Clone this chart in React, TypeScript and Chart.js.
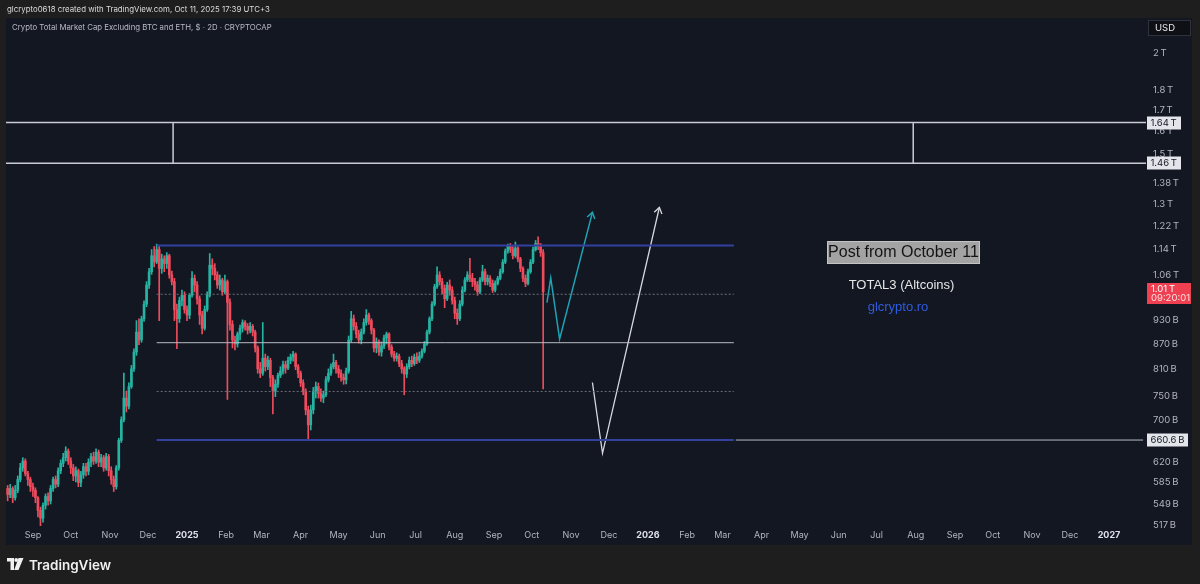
import React, { useEffect, useRef } from "react";
import { Chart, registerables } from "chart.js";

Chart.register(...registerables);

// ---------------- data (values in billions USD) ----------------
const firstCandleDate = "2024-08-12"; // first 2D candle
const candleStepDays = 2;
const firstOpen = 575;

const closes = [
  565, 575, 560, 572, 590, 610, 622, 600, 590, 578,
  572, 560, 540, 528, 548, 562, 555, 575, 590, 582,
  605, 618, 628, 640, 622, 610, 596, 605, 585, 598,
  612, 604, 620, 630, 622, 638, 620, 628, 610, 630,
  605, 590, 578, 610, 660, 700, 745, 728, 770, 810,
  850, 900, 880, 935, 975, 1030, 1070, 1120, 1100, 1140,
  1080, 1110, 1095, 1120, 1060, 1040, 960, 935, 985, 1000,
  960, 945, 1000, 1050, 1030, 990, 945, 910, 960, 1000,
  1090, 1080, 1060, 1030, 1045, 1010, 1040, 980, 920, 880,
  870, 895, 910, 925, 915, 905, 915, 900, 860, 810,
  800, 835, 815, 830, 790, 760, 775, 795, 805, 820,
  812, 830, 838, 845, 815, 800, 778, 760, 720, 690,
  720, 760, 770, 755, 745, 752, 785, 800, 815, 825,
  810, 800, 790, 785, 805, 880, 935, 915, 895, 880,
  900, 925, 945, 930, 905, 860, 875, 850, 865, 885,
  895, 862, 845, 835, 840, 822, 810, 798, 815, 830,
  822, 838, 830, 840, 852, 870, 900, 935, 975, 1025,
  1060, 1040, 1020, 990, 1030, 1015, 985, 950, 935, 975,
  1015, 1045, 1060, 1050, 1040, 1030, 1010, 1045, 1070, 1040,
  1050, 1035, 1015, 1035, 1050, 1070, 1100, 1135, 1150, 1140,
  1120, 1145, 1110, 1080, 1050, 1035, 1070, 1100, 1140, 1160,
  1150, 1130, 1010,
];

const highs = [
  580, 582, 578, 580, 596, 618, 628, 626, 604, 594,
  584, 576, 562, 545, 552, 566, 568, 580, 594, 596,
  610, 624, 636, 648, 644, 628, 616, 612, 608, 604,
  618, 618, 626, 636, 638, 644, 642, 634, 632, 636,
  634, 612, 596, 614, 664, 706, 800, 760, 778, 818,
  858, 930, 935, 942, 984, 1040, 1080, 1140, 1150, 1158,
  1150, 1125, 1120, 1130, 1125, 1072, 1050, 975, 995, 1015,
  1010, 970, 1005, 1070, 1060, 1040, 998, 955, 970, 1010,
  1127, 1110, 1095, 1070, 1060, 1050, 1060, 1045, 990, 930,
  890, 900, 918, 932, 930, 922, 925, 920, 905, 865,
  825, 925, 845, 840, 835, 795, 785, 800, 815, 828,
  828, 838, 845, 852, 848, 820, 805, 785, 765, 728,
  730, 768, 780, 778, 765, 760, 792, 810, 822, 845,
  830, 818, 808, 798, 812, 890, 955, 945, 925, 905,
  908, 935, 960, 950, 935, 910, 885, 880, 875, 892,
  900, 898, 868, 852, 848, 845, 830, 815, 822, 838,
  840, 845, 848, 850, 858, 876, 905, 940, 982, 1032,
  1085, 1070, 1050, 1030, 1038, 1045, 1025, 995, 962, 985,
  1025, 1052, 1070, 1112, 1065, 1050, 1040, 1052, 1090, 1078,
  1060, 1058, 1045, 1042, 1056, 1078, 1108, 1142, 1158, 1160,
  1150, 1165, 1150, 1115, 1085, 1060, 1078, 1108, 1148, 1170,
  1182, 1160, 1140,
];

const lows = [
  555, 560, 552, 556, 568, 586, 604, 596, 580, 570,
  562, 552, 530, 516, 522, 542, 548, 550, 570, 576,
  578, 600, 612, 622, 616, 600, 588, 586, 578, 578,
  592, 596, 598, 612, 616, 618, 612, 612, 604, 606,
  596, 582, 570, 574, 606, 656, 696, 716, 722, 766,
  804, 842, 868, 874, 928, 968, 1020, 1062, 1085, 1095,
  930, 1065, 1070, 1080, 1050, 1030, 930, 858, 925, 970,
  950, 930, 935, 995, 1010, 975, 920, 895, 905, 955,
  995, 1060, 1045, 1020, 1015, 1000, 1005, 742, 905, 860,
  855, 862, 880, 900, 905, 895, 898, 890, 850, 800,
  790, 795, 805, 808, 770, 712, 748, 768, 790, 798,
  800, 808, 822, 828, 808, 790, 770, 752, 710, 660,
  680, 712, 745, 745, 738, 735, 748, 780, 795, 810,
  800, 790, 782, 775, 776, 800, 875, 905, 885, 872,
  870, 895, 918, 920, 895, 850, 848, 842, 840, 858,
  870, 855, 838, 828, 828, 815, 800, 752, 790, 810,
  815, 818, 822, 825, 835, 848, 866, 895, 930, 970,
  1020, 1030, 1005, 965, 985, 1000, 975, 935, 920, 930,
  970, 1010, 1040, 1040, 1025, 1015, 1000, 1005, 1040, 1030,
  1030, 1025, 1008, 1010, 1030, 1045, 1065, 1095, 1128, 1130,
  1110, 1115, 1100, 1070, 1040, 1025, 1030, 1065, 1095, 1135,
  1140, 1118, 765,
];

const priceTicks = [517, 549, 585, 620, 700, 750, 810, 870, 930, 1060, 1140, 1220, 1300, 1380, 1500, 1600, 1700, 1800, 2000];
const priceTickLabels = ["517\u202FB", "549\u202FB", "585\u202FB", "620\u202FB", "700\u202FB", "750\u202FB", "810\u202FB", "870\u202FB", "930\u202FB", "1.06\u202FT", "1.14\u202FT", "1.22\u202FT", "1.3\u202FT", "1.38\u202FT", "1.5\u202FT", "1.6\u202FT", "1.7\u202FT", "1.8\u202FT", "2\u202FT"];

const monthTickDates = [
  "2024-09-01", "2024-10-01", "2024-11-01", "2024-12-01", "2025-01-01", "2025-02-01", "2025-03-01",
  "2025-04-01", "2025-05-01", "2025-06-01", "2025-07-01", "2025-08-01", "2025-09-01", "2025-10-01",
  "2025-11-01", "2025-12-01", "2026-01-01", "2026-02-01", "2026-03-01", "2026-04-01", "2026-05-01",
  "2026-06-01", "2026-07-01", "2026-08-01", "2026-09-01", "2026-10-01", "2026-11-01", "2026-12-01",
  "2027-01-01",
];
const monthTickLabels = [
  "Sep", "Oct", "Nov", "Dec", "2025", "Feb", "Mar", "Apr", "May", "Jun", "Jul", "Aug", "Sep", "Oct",
  "Nov", "Dec", "2026", "Feb", "Mar", "Apr", "May", "Jun", "Jul", "Aug", "Sep", "Oct", "Nov", "Dec", "2027",
];

// drawings
const channelLevels = [1153, 1003, 873, 759, 660.6]; // top, upper dotted, middle, lower dotted, bottom
const channelDates = ["2024-12-08", "2026-03-10"];
const supportExtensionEndDate = "2027-01-28";
const zoneLevels = [1640, 1460];
const zoneMarkerDates = ["2024-12-21", "2026-07-30"];
const lastPrice = 1010;
const lastPriceLabel = "1.01\u202FT";
const countdownLabel = "09:20:01";
const levelLabels = ["1.64\u202FT", "1.46\u202FT", "660.6\u202FB"];
const tealPathDates = ["2025-10-13", "2025-10-16", "2025-10-23", "2025-11-18"];
const tealPathPrices = [979, 1051, 882, 1268];
const whitePathDates = ["2025-11-18", "2025-11-26", "2026-01-10"];
const whitePathPrices = [779, 636, 1286];

// ---------------- helpers ----------------
const BASE = Date.parse("2025-01-01T00:00:00Z");
const dayOf = (iso: string) => (Date.parse(iso + "T00:00:00Z") - BASE) / 86400000;

const X_MIN = -143.3;
const X_MAX = 759.3;
const Y_MIN = 516.4;
const Y_MAX = 2213;

const UP = "#26b3a2";
const DOWN = "#ee4b5c";
const UI_FONT = "Inter, 'Noto Sans', sans-serif";
const TXT_FONT = "'Liberation Sans', Arial, sans-serif";

function fitText(ctx: CanvasRenderingContext2D, text: string, x: number, y: number, width: number, weight: string, family: string) {
  ctx.font = `${weight} 10px ${family}`;
  const w = ctx.measureText(text).width;
  const size = (10 * width) / w;
  ctx.font = `${weight} ${size.toFixed(2)}px ${family}`;
  ctx.fillText(text, x, y);
}

export default function App() {
  const ref = useRef<HTMLCanvasElement | null>(null);

  useEffect(() => {
    const canvas = ref.current;
    if (!canvas) return;

    const firstDay = dayOf(firstCandleDate);
    const candles = closes.map((c, i) => {
      const o = i === 0 ? firstOpen : closes[i - 1];
      return {
        d: firstDay + i * candleStepDays,
        o,
        c,
        h: Math.max(highs[i], o, c),
        l: Math.min(lows[i], o, c),
      };
    });
    const colors = candles.map((k) => (k.c >= k.o ? UP : DOWN));

    const chStart = dayOf(channelDates[0]);
    const chEnd = dayOf(channelDates[1]);

    const line = (label: string, pts: { x: number; y: number }[], color: string, width: number, dash: number[] = []) => ({
      type: "line" as const,
      label,
      data: pts,
      borderColor: color,
      backgroundColor: color,
      borderWidth: width,
      borderDash: dash,
      pointRadius: 0,
      fill: false,
      tension: 0,
      order: 0,
    });

    const datasets: any[] = [
      {
        type: "bar",
        label: "wicks",
        data: candles.map((k) => ({ x: k.d, y: [k.l, k.h] })),
        backgroundColor: colors,
        barThickness: 1,
        grouped: false,
        borderWidth: 0,
        order: 2,
      },
      {
        type: "bar",
        label: "bodies",
        data: candles.map((k) => ({ x: k.d, y: [k.o, k.c] })),
        backgroundColor: colors,
        barThickness: 2,
        grouped: false,
        borderWidth: 0,
        minBarLength: 1,
        order: 1,
      },
      // resistance zone
      line("zoneHigh", [{ x: X_MIN, y: zoneLevels[0] }, { x: X_MAX, y: zoneLevels[0] }], "#c9ccd3", 1.5),
      line("zoneLow", [{ x: X_MIN, y: zoneLevels[1] }, { x: X_MAX, y: zoneLevels[1] }], "#c9ccd3", 1.5),
      line("zoneV1", [{ x: dayOf(zoneMarkerDates[0]), y: zoneLevels[0] }, { x: dayOf(zoneMarkerDates[0]), y: zoneLevels[1] }], "#c9ccd3", 1.5),
      line("zoneV2", [{ x: dayOf(zoneMarkerDates[1]), y: zoneLevels[0] }, { x: dayOf(zoneMarkerDates[1]), y: zoneLevels[1] }], "#c9ccd3", 1.5),
      // channel
      line("chTop", [{ x: chStart, y: channelLevels[0] }, { x: chEnd, y: channelLevels[0] }], "#3240a0", 2),
      line("chUpDot", [{ x: chStart, y: channelLevels[1] }, { x: chEnd, y: channelLevels[1] }], "#6b6f7a", 1, [2, 2]),
      line("chMid", [{ x: chStart, y: channelLevels[2] }, { x: chEnd, y: channelLevels[2] }], "#b8bbc3", 1),
      line("chLoDot", [{ x: chStart, y: channelLevels[3] }, { x: chEnd, y: channelLevels[3] }], "#6b6f7a", 1, [2, 2]),
      line("chBottom", [{ x: chStart, y: channelLevels[4] }, { x: chEnd, y: channelLevels[4] }], "#3240a0", 2),
      line("supportExt", [{ x: chEnd + 1.5, y: channelLevels[4] }, { x: dayOf(supportExtensionEndDate), y: channelLevels[4] }], "#b8bbc3", 1),
      // projected paths
      line("tealPath", tealPathDates.map((d, i) => ({ x: dayOf(d), y: tealPathPrices[i] })), "#1fa2b4", 1.5),
      line("whitePath", whitePathDates.map((d, i) => ({ x: dayOf(d), y: whitePathPrices[i] })), "#d6d8de", 1.3),
    ];

    const monthTickDays = monthTickDates.map(dayOf);
    const isYear = (i: number) => /^\d{4}$/.test(monthTickLabels[i] || "");

    const decor = {
      id: "decor",
      beforeDraw(chart: any) {
        const ctx = chart.ctx;
        ctx.save();
        ctx.fillStyle = "#1e1e1e";
        ctx.fillRect(0, 0, chart.width, chart.height);
        ctx.fillStyle = "#131722";
        ctx.fillRect(6, 18, 1186, 527);
        // header
        ctx.fillStyle = "#dcdcdc";
        ctx.textBaseline = "middle";
        ctx.textAlign = "left";
        fitText(ctx, "glcrypto0618 created with TradingView.com, Oct 11, 2025 17:39 UTC+3", 7, 9.5, 263, "normal", UI_FONT);
        ctx.fillStyle = "#b8bbc3";
        fitText(ctx, "Crypto Total Market Cap Excluding BTC and ETH, $ · 2D · CRYPTOCAP", 12, 27.5, 260, "normal", UI_FONT);
        // TradingView logo
        ctx.fillStyle = "#f0f0f0";
        ctx.fillRect(7, 558, 7, 3.5);
        ctx.fillRect(10.5, 558, 3.5, 12);
        ctx.beginPath();
        ctx.arc(16.2, 560, 1.9, 0, Math.PI * 2);
        ctx.fill();
        ctx.beginPath();
        ctx.moveTo(18.5, 558);
        ctx.lineTo(23.5, 558);
        ctx.lineTo(18.5, 570);
        ctx.lineTo(14.2, 570);
        ctx.closePath();
        ctx.fill();
        ctx.textBaseline = "alphabetic";
        fitText(ctx, "TradingView", 29, 569.5, 82, "600", UI_FONT);
        ctx.restore();
      },
      afterDatasetsDraw(chart: any) {
        const ctx = chart.ctx;
        const arrow = (label: string, color: string, width: number) => {
          const idx = chart.data.datasets.findIndex((d: any) => d.label === label);
          if (idx < 0) return;
          const pts = chart.getDatasetMeta(idx).data;
          const a = pts[pts.length - 2];
          const b = pts[pts.length - 1];
          const ang = Math.atan2(b.y - a.y, b.x - a.x);
          const len = 7;
          ctx.save();
          ctx.strokeStyle = color;
          ctx.lineWidth = width;
          ctx.beginPath();
          ctx.moveTo(b.x - len * Math.cos(ang - 0.6), b.y - len * Math.sin(ang - 0.6));
          ctx.lineTo(b.x, b.y);
          ctx.lineTo(b.x - len * Math.cos(ang + 0.6), b.y - len * Math.sin(ang + 0.6));
          ctx.stroke();
          ctx.restore();
        };
        arrow("tealPath", "#1fa2b4", 1.5);
        arrow("whitePath", "#d6d8de", 1.3);
      },
      afterDraw(chart: any) {
        const ctx = chart.ctx;
        const y = chart.scales.y;
        ctx.save();
        // price axis boxes
        const box = (val: number, text: string) => {
          const py = Math.round(y.getPixelForValue(val));
          ctx.font = `9.5px ${UI_FONT}`;
          const w = Math.ceil(ctx.measureText(text).width) + 7;
          ctx.fillStyle = "#e3e5ea";
          ctx.fillRect(1147, py - 6.5, w, 13);
          ctx.fillStyle = "#131722";
          ctx.textBaseline = "middle";
          ctx.textAlign = "left";
          ctx.fillText(text, 1150.5, py + 0.5);
        };
        box(zoneLevels[0], levelLabels[0]);
        box(zoneLevels[1], levelLabels[1]);
        box(channelLevels[4], levelLabels[2]);
        // last price
        const lp = Math.round(y.getPixelForValue(lastPrice));
        ctx.fillStyle = "#ee4050";
        ctx.fillRect(1147, lp - 9, 44, 21);
        ctx.fillStyle = "#ffffff";
        ctx.font = `9.5px ${UI_FONT}`;
        ctx.textBaseline = "middle";
        ctx.fillText(lastPriceLabel, 1151, lp - 3);
        ctx.fillStyle = "#ffe0e3";
        ctx.fillText(countdownLabel, 1151, lp + 6.5);
        // USD box
        ctx.fillStyle = "#0e1016";
        ctx.fillRect(1148, 20, 43, 16);
        ctx.strokeStyle = "#2e323c";
        ctx.lineWidth = 1;
        ctx.strokeRect(1148.5, 20.5, 42, 15);
        ctx.fillStyle = "#e8e8e8";
        ctx.font = `9.5px ${UI_FONT}`;
        ctx.fillText("USD", 1155, 28.5);

        // text annotations
        ctx.textAlign = "center";
        ctx.fillStyle = "#a3a3a3";
        ctx.fillRect(827, 241, 153, 23);
        ctx.strokeStyle = "#c4c4c4";
        ctx.strokeRect(827.5, 241.5, 152, 22);
        ctx.fillStyle = "#141414";
        ctx.font = `16px ${TXT_FONT}`;
        ctx.fillText("Post from October 11", 903.5, 253);
        ctx.fillStyle = "#e6e6e6";
        ctx.font = `13px ${TXT_FONT}`;
        ctx.fillText("TOTAL3 (Altcoins)", 901.5, 285.5);
        ctx.fillStyle = "#2f5be0";
        ctx.fillText("glcrypto.ro", 898, 307.5);
        ctx.restore();
      },
    };

    const chart = new Chart(canvas, {
      type: "bar",
      data: { datasets },
      options: {
        animation: false,
        responsive: false,
        devicePixelRatio: 1,
        layout: { padding: { left: 6, top: 18, right: 8, bottom: 39 } },
        plugins: { legend: { display: false }, tooltip: { enabled: false } },
        scales: {
          x: {
            type: "linear",
            min: X_MIN,
            max: X_MAX,
            offset: false,
            grid: { display: false, drawTicks: false },
            border: { display: false },
            afterBuildTicks: (s: any) => {
              s.ticks = monthTickDays.map((v) => ({ value: v }));
            },
            afterFit: (s: any) => {
              s.height = 19;
            },
            ticks: {
              autoSkip: false,
              maxRotation: 0,
              padding: 4,
              color: (c: any) => (isYear(c.index) ? "#e0e3eb" : "#b2b5be"),
              font: (c: any) => ({
                family: UI_FONT,
                size: 9,
                weight: isYear(c.index) ? "bold" : "normal",
              }),
              callback: (v: any) => {
                const i = monthTickDays.findIndex((d) => Math.abs(d - v) < 0.01);
                return i >= 0 ? monthTickLabels[i] : "";
              },
            },
          },
          y: {
            type: "logarithmic",
            position: "right",
            min: Y_MIN,
            max: Y_MAX,
            grid: { display: false, drawTicks: false },
            border: { display: false },
            afterBuildTicks: (s: any) => {
              s.ticks = priceTicks.map((v) => ({ value: v }));
            },
            afterFit: (s: any) => {
              s.width = 46;
            },
            ticks: {
              autoSkip: false,
              padding: 7,
              color: "#b2b5be",
              font: { family: UI_FONT, size: 9.5 },
              callback: (v: any) => {
                const i = priceTicks.indexOf(Number(v));
                return i >= 0 ? priceTickLabels[i] : "";
              },
            },
          },
        },
      } as any,
      plugins: [decor],
    });

    return () => chart.destroy();
  }, []);

  return (
    <div style={{ position: "absolute", left: 0, top: 0, width: 1200, height: 584 }}>
      <canvas ref={ref} width={1200} height={584} style={{ display: "block", width: 1200, height: 584 }} />
    </div>
  );
}
